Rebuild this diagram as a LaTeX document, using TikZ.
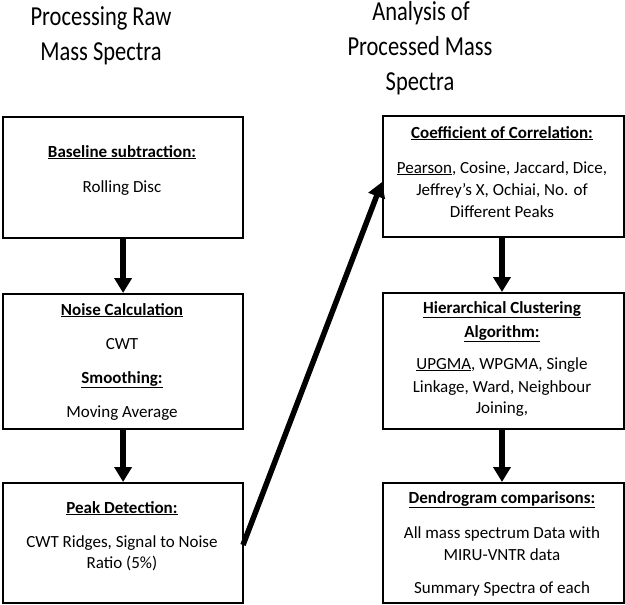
\documentclass[tikz,border=0pt]{standalone}
\usepackage{fontspec}
\setmainfont{Carlito}
\usetikzlibrary{arrows.meta}
\tikzset{
  box/.style={draw=black, line width=2.2pt, fill=white, anchor=north west, inner sep=0pt},
  txt/.style={anchor=base, inner sep=0pt, font=\fontsize{17}{20}\selectfont},
  ttl/.style={anchor=base, inner sep=0pt, font=\fontsize{22.5}{27}\selectfont},
  flow/.style={line width=5.5pt, -{Triangle[width=17pt,length=15pt]}},
}
\newcommand{\hd}[1]{\textbf{\underline{#1}}}
\newcommand{\tall}[1]{\scalebox{1}[1.22]{#1}}
\begin{document}
\begin{tikzpicture}[x=1pt,y=-1pt]
\useasboundingbox (0,0) rectangle (625,605);
% titles
\node[ttl] (tl1) at (101,25) {\tall{Processing Raw}};
\node[ttl] (tl2) at (101,60) {\tall{Mass Spectra}};
\node[ttl] (tr1) at (421,20) {\tall{Analysis of}};
\node[ttl] (tr2) at (420,55) {\tall{Processed Mass}};
\node[ttl] (tr3) at (420,90) {\tall{Spectra}};
% left boxes
\node[box, minimum width=240pt, minimum height=121pt] (L1) at (2,116) {};
\node[box, minimum width=240pt, minimum height=135pt] (L2) at (2,293) {};
\node[box, minimum width=240pt, minimum height=120pt] (L3) at (2,482) {};
% right boxes
\node[box, minimum width=241pt, minimum height=121pt] (R1) at (382,115) {};
\node[box, minimum width=241pt, minimum height=136pt] (R2) at (382,292) {};
\node[box, minimum width=241pt, minimum height=120pt] (R3) at (382,482) {};
% left texts
\node[txt] (a1) at (122,157) {\hd{Baseline subtraction:}};
\node[txt] (a2) at (122,192) {Rolling Disc};
\node[txt] (b1) at (122,315) {\hd{Noise Calculation}};
\node[txt] (b2) at (122,349) {CWT};
\node[txt] (b3) at (122,383) {\hd{Smoothing:}};
\node[txt] (b4) at (122,417) {Moving Average};
\node[txt] (c1) at (122,513) {\hd{Peak Detection:}};
\node[txt] (c2) at (122,547) {CWT Ridges, Signal to Noise};
\node[txt] (c3) at (122,568) {Ratio (5\%)};
% right texts
\node[txt] (d1) at (502,138) {\hd{Coefficient of Correlation:}};
\node[txt] (d2) at (502,173) {\underline{Pearson}, Cosine, Jaccard, Dice,};
\node[txt] (d3) at (502,195) {Jeffrey’s X, Ochiai, No. of};
\node[txt] (d4) at (502,217) {Different Peaks};
\node[txt] (e1) at (502,313) {\hd{Hierarchical Clustering}};
\node[txt] (e2) at (502,337) {\hd{Algorithm:}};
\node[txt] (e3) at (502,369) {\underline{UPGMA}, WPGMA, Single};
\node[txt] (e4) at (502,392) {Linkage, Ward, Neighbour};
\node[txt] (e5) at (502,413) {Joining,};
\node[txt] (f1) at (502,503) {\hd{Dendrogram comparisons:}};
\node[txt] (f2) at (502,538) {All mass spectrum Data with};
\node[txt] (f3) at (502,560) {MIRU-VNTR data};
\node[txt] (f4) at (502,593) {Summary Spectra of each};
% arrows
\draw[flow] (L1.south) -- (L2.north);
\draw[flow] (L2.south) -- (L3.north);
\draw[flow] (R1.south -| 502,0) -- (R2.north -| 502,0);
\draw[flow] (R2.south -| 502,0) -- (R3.north -| 502,0);
\coordinate (ds) at (243,545);
\coordinate (de) at (382,182);
\draw[flow] (ds) -- (de);
\end{tikzpicture}
\end{document}
